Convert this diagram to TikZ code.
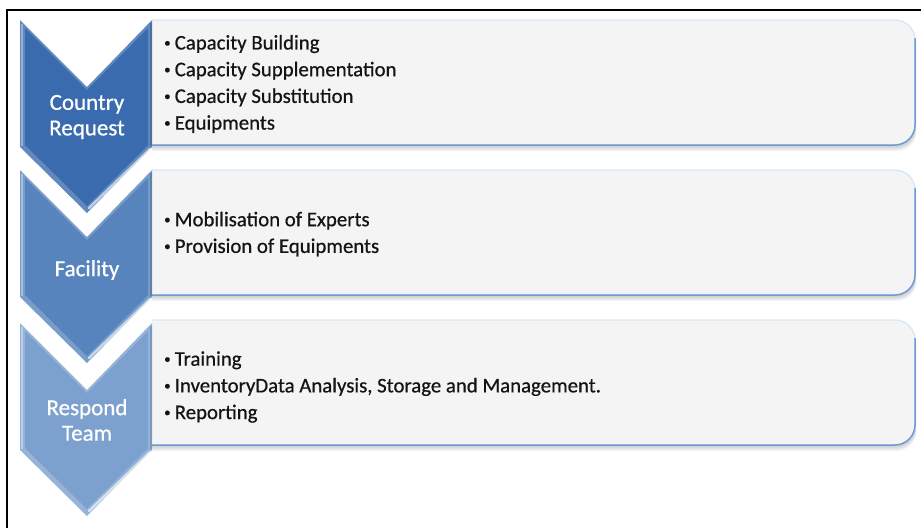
\documentclass[tikz,border=0pt]{standalone}
\usepackage{fontspec}
\usepackage{graphicx}
\setmainfont{Carlito}[FakeBold=0.6]
\definecolor{chevA}{HTML}{3A6BAE}
\definecolor{chevB}{HTML}{5884BD}
\definecolor{chevC}{HTML}{7DA1CE}
\definecolor{boxfill}{HTML}{F4F4F4}
\definecolor{boxedge}{HTML}{6F9BD4}
\definecolor{boxedgelight}{HTML}{D6E7F8}
\definecolor{txt}{HTML}{141414}
\tikzset{
  chevlabel/.style={text=white, font=\fontsize{23}{25.5}\selectfont, align=center, inner sep=0pt},
  itemlist/.style={text=txt, font=\fontsize{20.8}{26.7}\selectfont, align=left, anchor=west, inner sep=0pt},
  frameline/.style={line width=1.6pt, black},
}
% small bullet in front of each list entry
\newcommand\itm{\raisebox{0.12em}{\scalebox{0.62}{•}}\hspace{0.2em}}
% chevron: #1 top y, #2 colour
\newcommand\drawchevron[2]{%
  \fill[#2!80!white] (20,#1) -- (87,#1+67) -- (152,#1) -- (152,#1+127) -- (87,#1+193) -- (20,#1+127) -- cycle;
  \fill[#2] (25,#1+8) -- (87,#1+70) -- (148,#1+8) -- (148,#1+125) -- (87,#1+186) -- (25,#1+125) -- cycle;
  \draw[white, opacity=0.6, line width=2.5pt, line cap=round] (89,#1+188) -- (150,#1+129);
  \draw[#2!60!black, opacity=0.35, line width=1.5pt] (151,#1+3) -- (151,#1+126);
  \draw[white, opacity=0.35, line width=2pt] (22,#1+4) -- (22,#1+126);
}
% text panel: #1 top y
\newcommand\drawpanel[1]{%
  \begin{scope}
    \clip (152,#1-10) rectangle (921,#1+150);
    \foreach \k in {1,...,5}
      \fill[black, opacity=0.045, rounded corners=20] (120,#1+\k) rectangle (915+\k*0.3,#1+125+\k*1.2);
    \fill[boxfill, rounded corners=20] (120,#1) rectangle (915,#1+125);
    \draw[boxedgelight, line width=1.3pt, rounded corners=20] (120,#1) rectangle (915,#1+125);
    \draw[boxedge, line width=1.5pt] (120,#1+125) [rounded corners=20]-- (915,#1+125) -- (915,#1+18);
  \end{scope}
}
\begin{document}
\begin{tikzpicture}[x=1pt,y=-1pt]
  \useasboundingbox (0,0) rectangle (921,528);
  \fill[white] (0,0) rectangle (921,528);
  \draw[frameline] (7,528) -- (7,10) -- (921,10);

  \drawpanel{20}
  \drawpanel{170}
  \drawpanel{320}

  \drawchevron{323}{chevC}
  \drawchevron{170}{chevB}
  \drawchevron{20}{chevA}

  \node[chevlabel] (lab1) at (87,117) {Country\\Request};
  \node[chevlabel] (lab2) at (87,270) {Facility};
  \node[chevlabel] (lab3) at (87,420) {Respond\\Team};

  \node[itemlist] (list1) at (164,84) {\itm Capacity Building\\\itm Capacity Supplementation\\\itm Capacity Substitution\\\itm Equipments};
  \node[itemlist] (list2) at (164,234) {\itm Mobilisation of Experts\\\itm Provision of Equipments};
  \node[itemlist] (list3) at (164,387) {\itm Training\\\itm InventoryData Analysis, Storage and Management.\\\itm Reporting};
\end{tikzpicture}
\end{document}
